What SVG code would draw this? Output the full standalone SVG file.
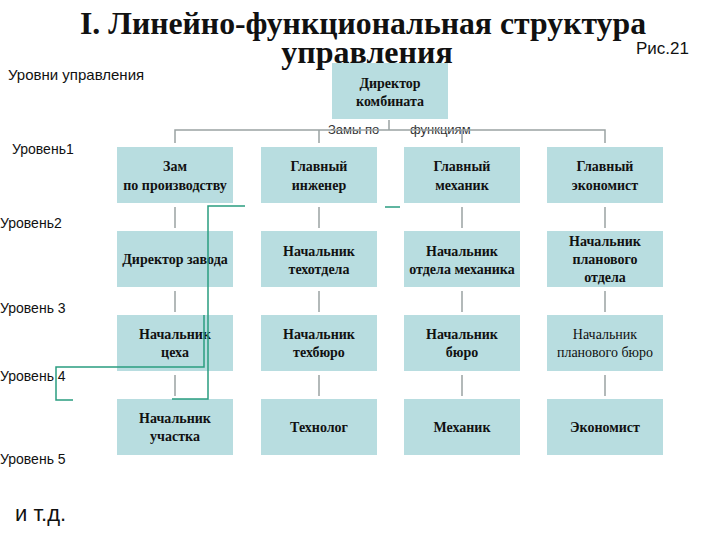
<svg xmlns="http://www.w3.org/2000/svg" width="720" height="540" viewBox="0 0 720 540">
<style>
.box{fill:#b8dde0;}
.nt{font-family:"Liberation Serif","Times New Roman",serif;font-size:14px;font-weight:bold;fill:#111;text-anchor:middle;}
.nr{font-weight:normal;}
.lv{font-family:"Liberation Sans",Arial,sans-serif;font-size:14px;fill:#111;}
.gc{stroke:#9aa3a3;stroke-width:1.5;fill:none;}
.tc{stroke:#2a9d80;stroke-width:1.5;fill:none;}
.fn{font-family:"Liberation Sans",Arial,sans-serif;font-size:13px;fill:#333;}
.tt{font-family:"Liberation Serif","Times New Roman",serif;font-size:32px;font-weight:bold;fill:#111;}
</style>
<rect width="720" height="540" fill="#fff"/>
<text class="tt" x="80" y="34" textLength="566" lengthAdjust="spacingAndGlyphs">I. Линейно-функциональная структура</text>
<text class="tt" x="367" y="63" text-anchor="middle">управления</text>
<text x="636" y="54" font-family="'Liberation Sans',Arial,sans-serif" font-size="17" fill="#111">Рис.21</text>
<g id="levels">
<text class="lv" x="8" y="80" style="font-size:15px">Уровни управления</text>
<text class="lv" x="12" y="154">Уровень1</text>
<text class="lv" x="0" y="228">Уровень2</text>
<text class="lv" x="0" y="313">Уровень 3</text>
<text class="lv" x="0" y="381">Уровень 4</text>
<text class="lv" x="0" y="464">Уровень 5</text>
<text class="lv" x="15" y="521" style="font-size:22px">и т.д.</text>
</g>
<text class="fn" x="328" y="134">Замы  по</text>
<text class="fn" x="410" y="134">функциям</text>
<g id="n0"><rect class="box" x="332" y="63" width="116" height="56"/><text class="nt" x="390" y="88">Директор</text><text class="nt" x="390" y="106">комбината</text></g>
<g id="n11"><rect class="box" x="117" y="147" width="116" height="56"/><text class="nt" x="175" y="171">Зам</text><text class="nt" x="175" y="190">по производству</text></g>
<g id="n12"><rect class="box" x="261" y="147" width="116" height="56"/><text class="nt" x="319" y="171">Главный</text><text class="nt" x="319" y="190">инженер</text></g>
<g id="n13"><rect class="box" x="404" y="147" width="116" height="56"/><text class="nt" x="462" y="171">Главный</text><text class="nt" x="462" y="190">механик</text></g>
<g id="n14"><rect class="box" x="547" y="147" width="116" height="56"/><text class="nt" x="605" y="171">Главный</text><text class="nt" x="605" y="190">экономист</text></g>
<g id="n21"><rect class="box" x="117" y="231" width="116" height="56"/><text class="nt" x="175" y="264">Директор завода</text></g>
<g id="n22"><rect class="box" x="261" y="231" width="116" height="56"/><text class="nt" x="319" y="256">Начальник</text><text class="nt" x="319" y="274">техотдела</text></g>
<g id="n23"><rect class="box" x="404" y="231" width="116" height="56"/><text class="nt" x="462" y="256">Начальник</text><text class="nt" x="462" y="274">отдела механика</text></g>
<g id="n24"><rect class="box" x="547" y="231" width="116" height="56"/><text class="nt" x="605" y="246">Начальник</text><text class="nt" x="605" y="264">планового</text><text class="nt" x="605" y="282">отдела</text></g>
<g id="n31"><rect class="box" x="117" y="315" width="116" height="56"/><text class="nt" x="175" y="339">Начальник</text><text class="nt" x="175" y="357">цеха</text></g>
<g id="n32"><rect class="box" x="261" y="315" width="116" height="56"/><text class="nt" x="319" y="339">Начальник</text><text class="nt" x="319" y="357">техбюро</text></g>
<g id="n33"><rect class="box" x="404" y="315" width="116" height="56"/><text class="nt" x="462" y="339">Начальник</text><text class="nt" x="462" y="357">бюро</text></g>
<g id="n34"><rect class="box" x="547" y="315" width="116" height="56"/><text class="nt nr" x="605" y="339">Начальник</text><text class="nt nr" x="605" y="357">планового бюро</text></g>
<g id="n41"><rect class="box" x="117" y="399" width="116" height="56"/><text class="nt" x="175" y="423">Начальник</text><text class="nt" x="175" y="441">участка</text></g>
<g id="n42"><rect class="box" x="261" y="399" width="116" height="56"/><text class="nt" x="319" y="432">Технолог</text></g>
<g id="n43"><rect class="box" x="404" y="399" width="116" height="56"/><text class="nt" x="462" y="432">Механик</text></g>
<g id="n44"><rect class="box" x="547" y="399" width="116" height="56"/><text class="nt" x="605" y="432">Экономист</text></g>
<g id="connectors">
<path class="gc" d="M389 120V130M175 143V130H605V143M319 130V143M462 130V143"/>
<path class="gc" d="M175 207V228M319 207V228M462 207V228M605 207V228"/>
<path class="gc" d="M175 291V312M319 291V312M462 291V312M605 291V312"/>
<path class="gc" d="M175 375V396M319 375V396M462 375V396M605 375V396"/>
<path class="tc" d="M245 206H208V399H172"/>
<path class="tc" d="M204 315V367H56V400H73"/>
<path class="tc" d="M385 207H400"/>
</g>
</svg>
